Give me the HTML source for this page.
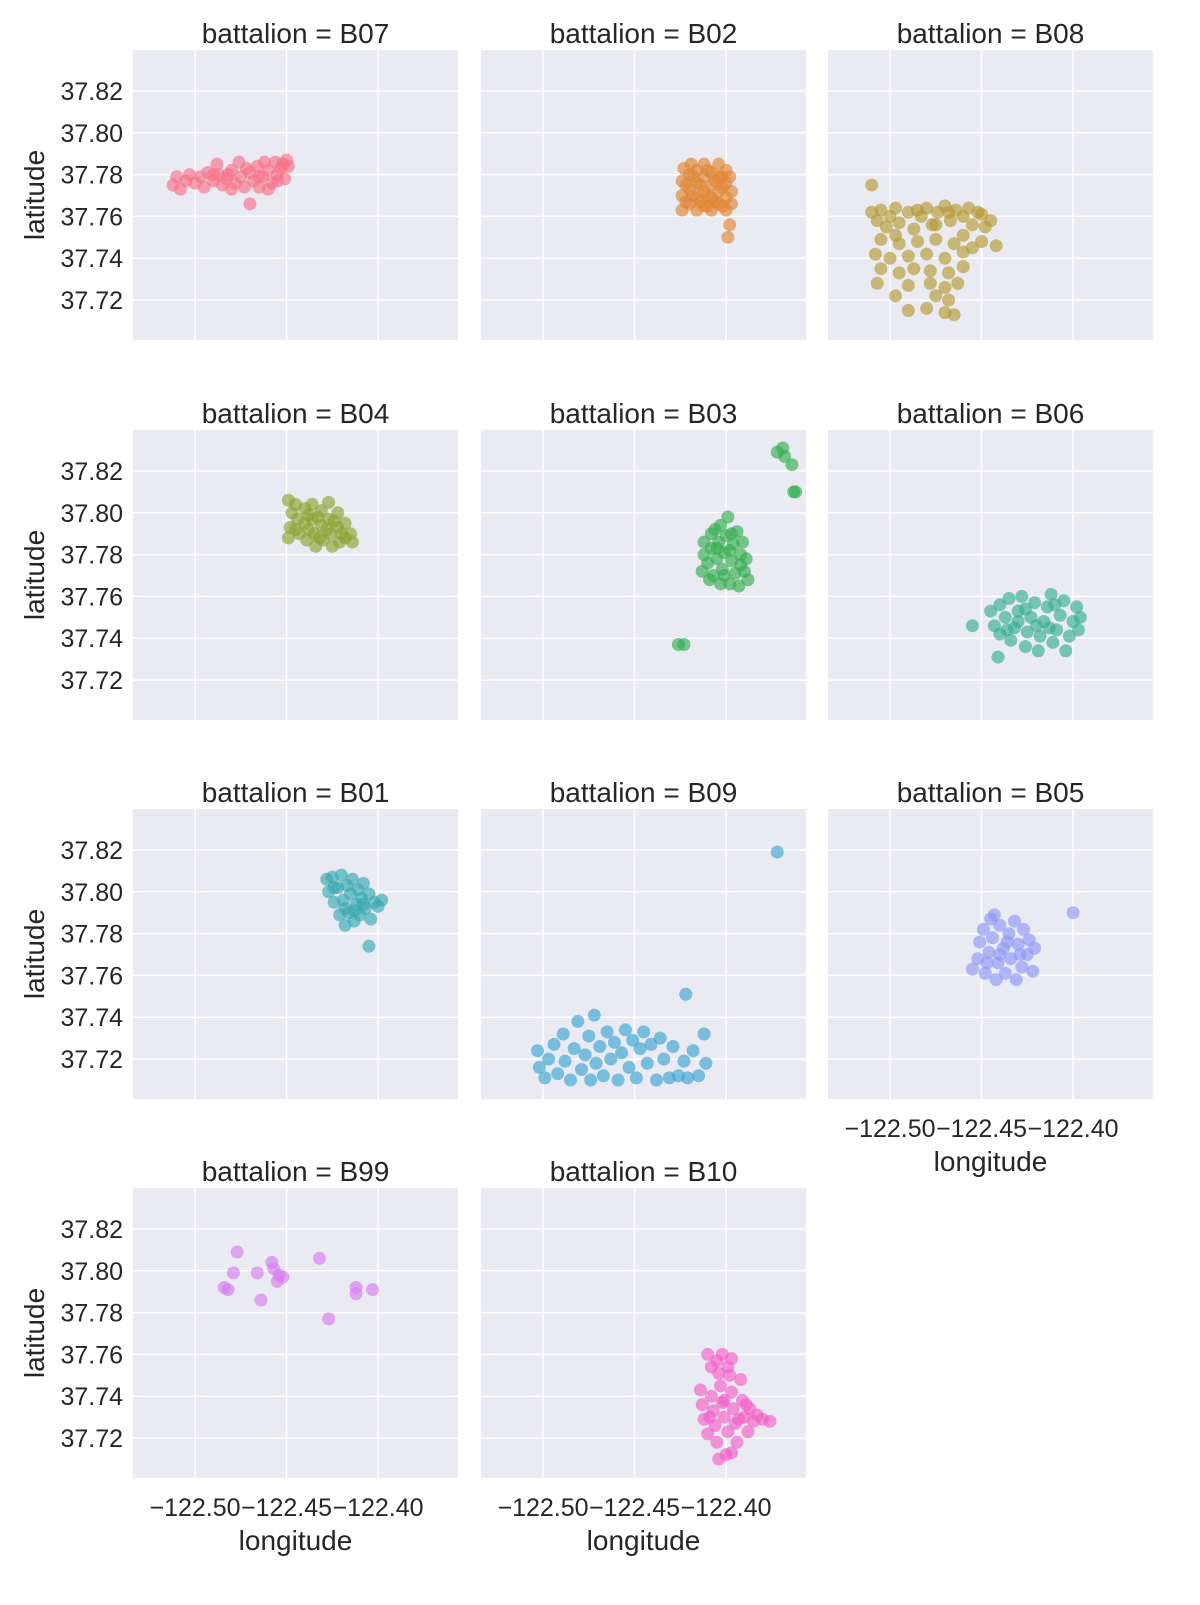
<!DOCTYPE html>
<html><head><meta charset="utf-8"><style>
html,body{margin:0;padding:0;background:#fff;}
svg text{font-family:"Liberation Sans","DejaVu Sans",sans-serif;fill:#262626;}
</style></head><body>
<svg id="c" width="1200" height="1600" xmlns="http://www.w3.org/2000/svg"></svg>
<script>
const panelNames=["B07","B02","B08","B04","B03","B06","B01","B09","B05","B99","B10"];
const panelColors=["#f77189","#e08532","#b39a32","#8aa531","#34af50","#36ad93","#38a9b2","#3ba3d3","#8e96f4","#d67cf0","#f35fc7"];
const xTicks=[-122.50,-122.45,-122.40];
const xTickLabels=["\u2212122.50","\u2212122.45","\u2212122.40"];
const yTicks=[37.72,37.74,37.76,37.78,37.80,37.82];
const yTickLabels=["37.72","37.74","37.76","37.78","37.80","37.82"];
const ptsB07=[[-122.512,37.775],[-122.51,37.779],[-122.508,37.773],[-122.505,37.777],[-122.503,37.780],[-122.50,37.776],[-122.497,37.779],[-122.495,37.774],[-122.493,37.781],[-122.49,37.777],[-122.488,37.785],[-122.487,37.780],[-122.485,37.775],[-122.483,37.778],[-122.48,37.782],[-122.478,37.776],[-122.476,37.786],[-122.475,37.779],[-122.473,37.774],[-122.47,37.781],[-122.468,37.777],[-122.466,37.784],[-122.465,37.774],[-122.463,37.779],[-122.46,37.782],[-122.458,37.776],[-122.456,37.786],[-122.455,37.780],[-122.453,37.783],[-122.451,37.778],[-122.45,37.787],[-122.449,37.784],[-122.47,37.766],[-122.46,37.773],[-122.48,37.773],[-122.472,37.783],[-122.462,37.786],[-122.455,37.777],[-122.49,37.780],[-122.482,37.780],[-122.465,37.779],[-122.452,37.785]];
const ptsB02=[[-122.424,37.763],[-122.424,37.770],[-122.424,37.777],[-122.423,37.783],[-122.420,37.766],[-122.420,37.773],[-122.420,37.780],[-122.419,37.785],[-122.416,37.763],[-122.416,37.769],[-122.416,37.776],[-122.416,37.782],[-122.412,37.765],[-122.412,37.772],[-122.412,37.779],[-122.412,37.785],[-122.408,37.763],[-122.408,37.769],[-122.408,37.775],[-122.408,37.781],[-122.404,37.766],[-122.404,37.772],[-122.404,37.779],[-122.404,37.785],[-122.400,37.763],[-122.400,37.769],[-122.400,37.776],[-122.400,37.782],[-122.397,37.766],[-122.397,37.772],[-122.398,37.756],[-122.399,37.750],[-122.418,37.770],[-122.410,37.770],[-122.406,37.777],[-122.414,37.775],[-122.402,37.774],[-122.422,37.775],[-122.422,37.767],[-122.414,37.767],[-122.406,37.767],[-122.418,37.779],[-122.410,37.782],[-122.402,37.779],[-122.398,37.779],[-122.410,37.765],[-122.402,37.765]];
const ptsB08=[[-122.51,37.775],[-122.51,37.762],[-122.507,37.758],[-122.505,37.763],[-122.502,37.755],[-122.50,37.760],[-122.497,37.764],[-122.495,37.757],[-122.49,37.762],[-122.487,37.754],[-122.483,37.760],[-122.48,37.764],[-122.477,37.756],[-122.474,37.762],[-122.47,37.765],[-122.467,37.758],[-122.464,37.763],[-122.46,37.760],[-122.457,37.764],[-122.455,37.756],[-122.452,37.762],[-122.448,37.755],[-122.445,37.758],[-122.442,37.746],[-122.45,37.748],[-122.46,37.751],[-122.465,37.747],[-122.475,37.749],[-122.485,37.748],[-122.495,37.747],[-122.505,37.749],[-122.508,37.742],[-122.50,37.740],[-122.49,37.741],[-122.48,37.742],[-122.47,37.740],[-122.46,37.743],[-122.455,37.745],[-122.505,37.735],[-122.495,37.733],[-122.487,37.735],[-122.478,37.734],[-122.468,37.733],[-122.46,37.736],[-122.507,37.728],[-122.49,37.727],[-122.478,37.728],[-122.47,37.726],[-122.463,37.728],[-122.475,37.722],[-122.468,37.720],[-122.47,37.714],[-122.465,37.713],[-122.49,37.715],[-122.497,37.722],[-122.48,37.716],[-122.475,37.756],[-122.497,37.751],[-122.468,37.762],[-122.485,37.763],[-122.45,37.761]];
const ptsB04=[[-122.449,37.806],[-122.447,37.800],[-122.448,37.793],[-122.449,37.788],[-122.445,37.804],[-122.444,37.797],[-122.443,37.790],[-122.440,37.802],[-122.440,37.795],[-122.439,37.787],[-122.436,37.804],[-122.436,37.797],[-122.435,37.790],[-122.434,37.784],[-122.431,37.801],[-122.431,37.794],[-122.430,37.787],[-122.427,37.805],[-122.427,37.797],[-122.426,37.790],[-122.425,37.784],[-122.422,37.800],[-122.422,37.793],[-122.421,37.786],[-122.418,37.795],[-122.418,37.788],[-122.415,37.790],[-122.414,37.786],[-122.438,37.792],[-122.428,37.792],[-122.433,37.798],[-122.445,37.792],[-122.438,37.799],[-122.424,37.796],[-122.432,37.788],[-122.42,37.790]];
const ptsB03=[[-122.413,37.772],[-122.412,37.780],[-122.412,37.786],[-122.410,37.776],[-122.408,37.783],[-122.408,37.790],[-122.407,37.770],[-122.405,37.778],[-122.404,37.786],[-122.403,37.766],[-122.402,37.773],[-122.401,37.781],[-122.400,37.789],[-122.399,37.798],[-122.398,37.766],[-122.397,37.777],[-122.396,37.785],[-122.395,37.771],[-122.394,37.791],[-122.393,37.765],[-122.392,37.780],[-122.391,37.786],[-122.390,37.772],[-122.389,37.778],[-122.388,37.768],[-122.406,37.792],[-122.372,37.829],[-122.369,37.831],[-122.368,37.827],[-122.364,37.823],[-122.363,37.810],[-122.362,37.810],[-122.426,37.737],[-122.423,37.737],[-122.403,37.794],[-122.409,37.768],[-122.405,37.783],[-122.398,37.782],[-122.392,37.775],[-122.397,37.790],[-122.401,37.770]];
const ptsB06=[[-122.445,37.753],[-122.443,37.746],[-122.44,37.756],[-122.44,37.742],[-122.437,37.750],[-122.435,37.759],[-122.434,37.739],[-122.432,37.745],[-122.43,37.753],[-122.428,37.760],[-122.426,37.736],[-122.425,37.743],[-122.423,37.750],[-122.421,37.757],[-122.419,37.734],[-122.418,37.741],[-122.416,37.748],[-122.414,37.755],[-122.412,37.761],[-122.411,37.738],[-122.409,37.744],[-122.407,37.751],[-122.405,37.758],[-122.404,37.734],[-122.402,37.741],[-122.400,37.748],[-122.398,37.755],[-122.397,37.744],[-122.396,37.750],[-122.455,37.746],[-122.441,37.731],[-122.43,37.748],[-122.436,37.744],[-122.42,37.746],[-122.41,37.756],[-122.413,37.745],[-122.426,37.754]];
const ptsB01=[[-122.428,37.806],[-122.427,37.800],[-122.425,37.807],[-122.424,37.795],[-122.422,37.802],[-122.421,37.789],[-122.42,37.808],[-122.419,37.796],[-122.418,37.784],[-122.417,37.803],[-122.416,37.790],[-122.415,37.799],[-122.414,37.806],[-122.413,37.786],[-122.412,37.794],[-122.411,37.801],[-122.41,37.789],[-122.409,37.797],[-122.408,37.804],[-122.407,37.792],[-122.405,37.799],[-122.404,37.787],[-122.402,37.795],[-122.400,37.793],[-122.398,37.796],[-122.405,37.774],[-122.418,37.792],[-122.424,37.802],[-122.413,37.791],[-122.408,37.794]];
const ptsB09=[[-122.503,37.724],[-122.502,37.716],[-122.499,37.711],[-122.497,37.720],[-122.494,37.727],[-122.492,37.713],[-122.489,37.732],[-122.488,37.719],[-122.485,37.710],[-122.483,37.725],[-122.481,37.738],[-122.479,37.715],[-122.477,37.722],[-122.475,37.731],[-122.474,37.710],[-122.472,37.741],[-122.471,37.718],[-122.469,37.726],[-122.467,37.712],[-122.465,37.733],[-122.463,37.720],[-122.461,37.728],[-122.459,37.710],[-122.457,37.723],[-122.455,37.734],[-122.453,37.716],[-122.451,37.729],[-122.449,37.711],[-122.447,37.725],[-122.445,37.733],[-122.443,37.718],[-122.441,37.727],[-122.438,37.710],[-122.436,37.730],[-122.434,37.720],[-122.431,37.711],[-122.429,37.726],[-122.426,37.712],[-122.423,37.719],[-122.421,37.711],[-122.418,37.724],[-122.415,37.712],[-122.412,37.732],[-122.411,37.718],[-122.372,37.819],[-122.422,37.751]];
const ptsB05=[[-122.455,37.763],[-122.452,37.768],[-122.451,37.776],[-122.449,37.782],[-122.448,37.761],[-122.446,37.771],[-122.445,37.787],[-122.444,37.778],[-122.442,37.758],[-122.441,37.766],[-122.44,37.784],[-122.438,37.773],[-122.437,37.761],[-122.435,37.780],[-122.434,37.768],[-122.432,37.786],[-122.431,37.758],[-122.43,37.775],[-122.428,37.764],[-122.427,37.782],[-122.425,37.770],[-122.424,37.777],[-122.422,37.762],[-122.421,37.773],[-122.443,37.789],[-122.40,37.790],[-122.447,37.766],[-122.436,37.776],[-122.429,37.770],[-122.44,37.770]];
const ptsB99=[[-122.484,37.792],[-122.482,37.791],[-122.479,37.799],[-122.477,37.809],[-122.466,37.799],[-122.464,37.786],[-122.458,37.804],[-122.457,37.801],[-122.455,37.795],[-122.454,37.798],[-122.452,37.797],[-122.432,37.806],[-122.427,37.777],[-122.412,37.792],[-122.412,37.789],[-122.403,37.791]];
const ptsB10=[[-122.410,37.760],[-122.408,37.754],[-122.405,37.757],[-122.402,37.760],[-122.399,37.754],[-122.397,37.758],[-122.414,37.743],[-122.413,37.736],[-122.412,37.729],[-122.410,37.722],[-122.408,37.740],[-122.407,37.733],[-122.406,37.726],[-122.405,37.718],[-122.403,37.745],[-122.402,37.737],[-122.401,37.730],[-122.400,37.712],[-122.399,37.723],[-122.397,37.742],[-122.396,37.734],[-122.395,37.727],[-122.394,37.718],[-122.392,37.748],[-122.391,37.738],[-122.390,37.730],[-122.388,37.723],[-122.387,37.734],[-122.385,37.728],[-122.383,37.731],[-122.380,37.729],[-122.376,37.728],[-122.404,37.710],[-122.397,37.713],[-122.398,37.750],[-122.393,37.729],[-122.404,37.751],[-122.409,37.730],[-122.401,37.738],[-122.389,37.736]];
const allPts=[ptsB07,ptsB02,ptsB08,ptsB04,ptsB03,ptsB06,ptsB01,ptsB09,ptsB05,ptsB99,ptsB10];

const NS="http://www.w3.org/2000/svg";
const svg=document.getElementById('c');
const colX=[133,481,828], rowY=[50,430,809,1188], PW=325, PH=290;
const xMin=-122.5339, xMax=-122.3563, yMin=37.7009, yMax=37.8396;
function sx(v,c){return colX[c]+(v-xMin)/(xMax-xMin)*PW;}
function sy(v,r){return rowY[r]+(yMax-v)/(yMax-yMin)*PH;}
function mk(tag,attrs,parent){const e=document.createElementNS(NS,tag);for(const k in attrs)e.setAttribute(k,attrs[k]);(parent||svg).appendChild(e);return e;}
function txt(s,attrs,parent){const t=mk('text',attrs,parent);t.textContent=s;return t;}

panelNames.forEach((name,i)=>{
  const r=Math.floor(i/3), c=i%3;
  const g=mk('g',{});
  
  
  const bg=mk('rect',{x:colX[c],y:rowY[r],width:PW,height:PH,fill:'#eaeaf2'},g);
  
  
  xTicks.forEach(v=>{const l=mk('line',{x1:sx(v,c),x2:sx(v,c),y1:rowY[r],y2:rowY[r]+PH,stroke:'#fff','stroke-width':1.5},g);
    });
  yTicks.forEach(v=>{const l=mk('line',{x1:colX[c],x2:colX[c]+PW,y1:sy(v,r),y2:sy(v,r),stroke:'#fff','stroke-width':1.5},g);
    });
  allPts[i].forEach(p=>{const d=mk('circle',{cx:sx(p[0],c),cy:sy(p[1],r),r:6.5,fill:panelColors[i],'fill-opacity':0.65},g);
    });
  const t=txt('battalion = '+name,{x:colX[c]+PW/2,y:rowY[r]-7,'text-anchor':'middle','font-size':28},g);
  
  if(c===0){
    yTicks.forEach((v,k)=>{const tl=txt(yTickLabels[k],{x:colX[c]-10,y:sy(v,r)+9,'text-anchor':'end','font-size':25},g);
      });
    const yl=txt('latitude',{x:0,y:0,'text-anchor':'middle','font-size':28,transform:`translate(44,${rowY[r]+PH/2}) rotate(-90)`},g);
    
  }
  const bottom = (r===3) || (r===2 && c===2);
  if(bottom){
    xTicks.forEach((v,k)=>{const tl=txt(xTickLabels[k],{x:sx(v,c),y:rowY[r]+PH+38,'text-anchor':'middle','font-size':25},g);
      });
    const xl=txt('longitude',{x:colX[c]+PW/2,y:rowY[r]+PH+72,'text-anchor':'middle','font-size':28},g);
    
  }
});
</script>
</body></html>
